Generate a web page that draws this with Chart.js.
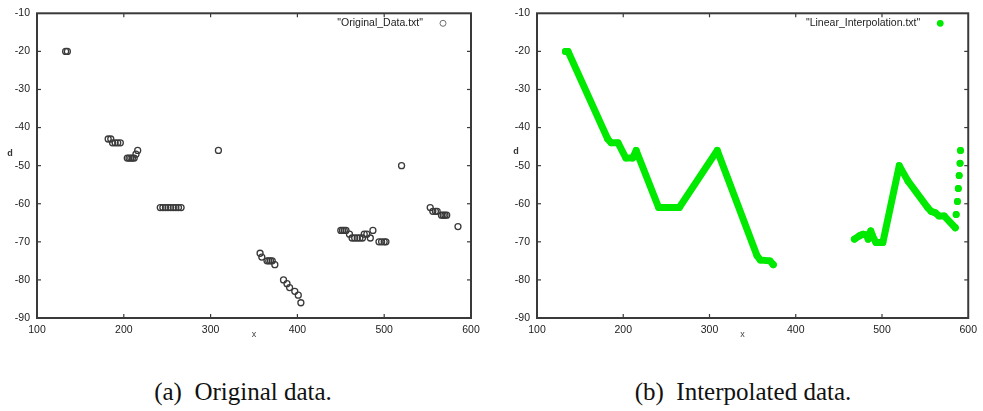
<!DOCTYPE html>
<html>
<head>
<meta charset="utf-8">
<script src="https://cdn.jsdelivr.net/npm/chart.js@4/dist/chart.umd.min.js"></script>
<style>
html,body{margin:0;padding:0;background:#fff;width:983px;height:411px;overflow:hidden;}
.box{position:absolute;top:0;height:345px;}
#b1{left:0;width:490px;}
#b2{left:500px;width:483px;}
.cap{position:absolute;top:379px;width:400px;text-align:center;font-family:'Liberation Serif','Times New Roman',serif;font-size:25px;line-height:25px;color:#111;white-space:pre;}
#cap1{left:43px;}
#cap2{left:543px;}
</style>
</head>
<body>
<div class="box" id="b1"><canvas id="c1"></canvas></div>
<div class="box" id="b2"><canvas id="c2"></canvas></div>
<div class="cap" id="cap1">(a)  Original data.</div>
<div class="cap" id="cap2">(b)  Interpolated data.</div>
<script>
// ---- tick labels ----
const xTickValues = [100, 200, 300, 400, 500, 600];
const yTickValues = [-90, -80, -70, -60, -50, -40, -30, -20, -10];

// ---- (a) original data ----
const origLabel = '"Original_Data.txt"';
const origX = [133,135,182,185,187,190,193,196,204,206,208,210,212,214,216,
  242,245,248,251,254,257,260,263,266,309,357,359,365,367,369,371,374,
  384,388,391,397,401,404,450,452,454,456,460,463,466,469,472,475,477,480,484,487,
  494,497,500,502,520,553,556,559,561,566,568,570,572,585];
const origY = [-20,-20,-43,-43,-44,-44,-44,-44,-48,-48,-48,-48,-48,-47,-46,
  -61,-61,-61,-61,-61,-61,-61,-61,-61,-46,-73,-74,-75,-75,-75,-75,-76,
  -80,-81,-82,-83,-84,-86,-67,-67,-67,-67,-68,-69,-69,-69,-69,-69,-68,-68,-69,-67,
  -70,-70,-70,-70,-50,-61,-62,-62,-62,-63,-63,-63,-63,-66];

// ---- (b) interpolated data ----
const interpLabel = '"Linear_Interpolation.txt"';
const seg1X = [133,136,182,186,194,203,211,215,241,265,309,355,359,370,374];
const seg1Y = [-20,-20,-43,-44,-44,-48,-48,-46,-61,-61,-46,-73.6,-74.8,-75,-76];
const seg2X = [468,474,478,482,484,487,489,493,501,520,530,553,557,562,566,572,585];
const seg2Y = [-69.3,-68.4,-68,-68.2,-69.3,-67.1,-68.4,-70.2,-70.2,-50,-54,-61,-62,-62.4,-63.2,-63.2,-66.3];
const tailX = [586,587.5,588.5,589.5,590.5,591];
const tailY = [-62.8,-59.4,-56,-52.6,-49.4,-46];

const GREEN = '#00ea00';
const FRAME = '#3a3a3a';

function pts(xs, ys){ return xs.map((x,i)=>({x:x, y:ys[i]})); }
const interpData = [].concat(
  pts(seg1X, seg1Y), [{x:420, y:null}],
  pts(seg2X, seg2Y),
  ...tailX.map((x,i)=>[{x:x, y:null}, {x:x, y:tailY[i]}])
);

const gnuFrame = {
  id: 'gnuFrame',
  beforeDatasetsDraw(chart, args, o) {
    const {ctx, chartArea: a} = chart;
    const sx = chart.scales.x, sy = chart.scales.y;
    ctx.save();
    ctx.strokeStyle = FRAME;
    ctx.lineWidth = 1.2;
    const L = (x1,y1,x2,y2)=>{ctx.beginPath();ctx.moveTo(x1,y1);ctx.lineTo(x2,y2);ctx.stroke();};
    sx.ticks.forEach(t=>{
      const p = sx.getPixelForValue(t.value);
      if (p <= a.left+1 || p >= a.right-1) return;
      L(p,a.bottom,p,a.bottom-4); L(p,a.top,p,a.top+4);
    });
    sy.ticks.forEach(t=>{
      const p = sy.getPixelForValue(t.value);
      if (p <= a.top+1 || p >= a.bottom-1) return;
      L(a.left,p,a.left+4,p); L(a.right,p,a.right-4,p);
    });
    ctx.lineWidth = 2;
    ctx.strokeRect(a.left, a.top, a.right-a.left, a.bottom-a.top);
    ctx.restore();
  },
  afterDatasetsDraw(chart, args, o) {
    const {ctx, chartArea: a} = chart;
    const ds = chart.data.datasets[0];
    ctx.save();
    // key
    ctx.font = '10.5px "Liberation Sans", Arial, sans-serif';
    ctx.fillStyle = '#222';
    ctx.textAlign = 'right';
    ctx.textBaseline = 'middle';
    const ky = a.top + 10;
    ctx.fillText(ds.label, a.right - 48, ky);
    ctx.beginPath();
    ctx.arc(a.right - 28, ky, ds.pointRadius, 0, Math.PI*2);
    if (o.filled) { ctx.fillStyle = ds.pointBackgroundColor; ctx.fill(); }
    else { ctx.strokeStyle = '#707070'; ctx.lineWidth = 1; ctx.stroke(); }
    // axis titles
    ctx.fillStyle = '#333';
    ctx.textAlign = 'center';
    ctx.font = 'bold 9px "Liberation Sans", Arial, sans-serif';
    ctx.fillText('d', a.left + o.dDx, a.top + o.dDy);
    ctx.font = '9px "Liberation Sans", Arial, sans-serif';
    ctx.fillStyle = '#444';
    ctx.fillText('x', (a.left+a.right)/2 + o.xDx, a.bottom + 17);
    ctx.restore();
  }
};

function makeOptions(padRight, frameOpts) {
  const tickFont = {family: '"Liberation Sans", Arial, sans-serif', size: 10.5};
  return {
    responsive: true,
    maintainAspectRatio: false,
    animation: false,
    events: [],
    layout: {padding: {top: 10, right: padRight, bottom: 0, left: 0}},
    plugins: {legend: {display: false}, tooltip: {enabled: false}, gnuFrame: frameOpts},
    scales: {
      x: {
        type: 'linear', min: 100, max: 600,
        grid: {display: false, drawTicks: false},
        border: {display: false},
        afterBuildTicks: s => { s.ticks = xTickValues.map(v=>({value:v})); },
        afterFit: s => { s.height = 27; },
        ticks: {font: tickFont, color: '#222', padding: 6, maxRotation: 0, autoSkip: false}
      },
      y: {
        type: 'linear', min: -90, max: -10,
        grid: {display: false, drawTicks: false},
        border: {display: false},
        afterBuildTicks: s => { s.ticks = yTickValues.map(v=>({value:v})); },
        afterFit: s => { s.width = 37; },
        ticks: {font: tickFont, color: '#222', padding: 7, autoSkip: false}
      }
    }
  };
}

new Chart(document.getElementById('c1'), {
  type: 'scatter',
  data: {datasets: [{
    label: origLabel,
    data: pts(origX, origY),
    pointRadius: 3,
    pointBorderWidth: 1.3,
    pointBorderColor: '#3a3a3a',
    pointBackgroundColor: 'rgba(0,0,0,0)',
    showLine: false
  }]},
  options: makeOptions(19, {dDx: -27, dDy: 140, xDx: 0, filled: false}),
  plugins: [gnuFrame]
});

new Chart(document.getElementById('c2'), {
  type: 'scatter',
  data: {datasets: [{
    label: interpLabel,
    data: interpData,
    showLine: true,
    spanGaps: false,
    borderColor: GREEN,
    borderWidth: 7,
    borderJoinStyle: 'round',
    borderCapStyle: 'round',
    pointRadius: 3.4,
    pointBorderWidth: 0,
    pointBackgroundColor: GREEN,
    pointBorderColor: GREEN
  }]},
  options: makeOptions(12, {dDx: -21, dDy: 138, xDx: -10, filled: true}),
  plugins: [gnuFrame]
});
</script>
</body>
</html>
